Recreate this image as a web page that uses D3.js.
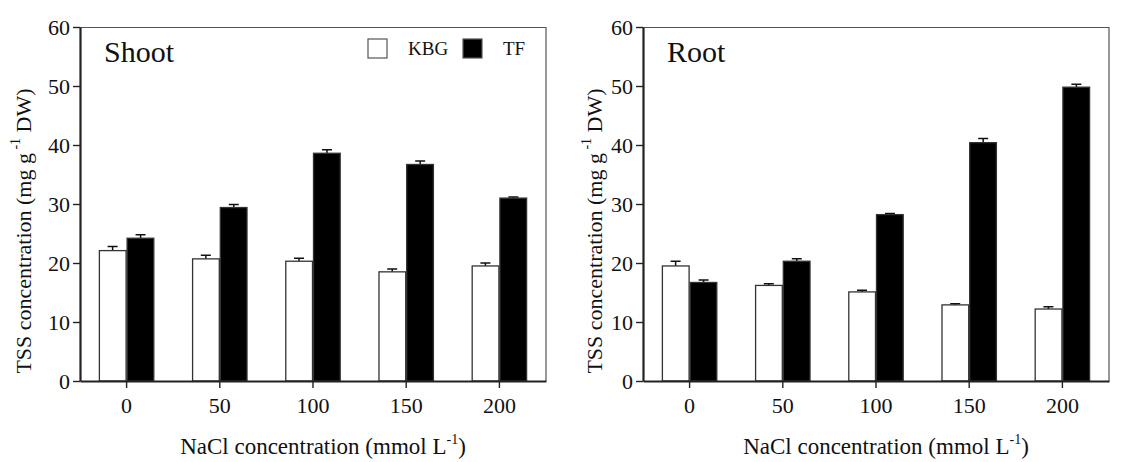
<!DOCTYPE html>
<html lang="en">
<head>
    <meta charset="UTF-8">
    <title>TSS concentration</title>
    <script src="https://d3js.org/d3.v7.min.js"></script>
    <style>
        body {
            margin: 0;
            background: #fff;
        }
        svg {
            display: block;
        }
    </style>
</head>
<body>
    <svg id="svg"></svg>
    <script>
        // data
        const doses = ['0', '50', '100', '150', '200'];
        const yTicks = [0, 10, 20, 30, 40, 50, 60];
        const series = ['KBG', 'TF'];

        const shootKBG = [22.1, 20.7, 20.3, 18.5, 19.5];
        const shootKBGErr = [0.7, 0.6, 0.5, 0.5, 0.5];
        const shootTF = [24.2, 29.4, 38.6, 36.7, 31.0];
        const shootTFErr = [0.6, 0.5, 0.6, 0.6, 0.2];

        const rootKBG = [19.5, 16.2, 15.1, 12.9, 12.2];
        const rootKBGErr = [0.8, 0.3, 0.3, 0.2, 0.4];
        const rootTF = [16.7, 20.3, 28.2, 40.4, 49.8];
        const rootTFErr = [0.4, 0.4, 0.2, 0.7, 0.5];

        const FONT = "'Liberation Serif', 'Times New Roman', serif";

        const svg = d3.select('#svg')
            .attr('width', 1123)
            .attr('height', 462)
            .attr('viewBox', '0 0 1123 462')
            .attr('font-family', FONT);

        const innerWidth = 466;
        const innerHeight = 354;

        const color = d3.scaleOrdinal().domain(series).range(['#fff', '#000']);

        const drawPanel = (left, top, label, kbg, kbgErr, tf, tfErr, opts) => {
            const g = svg.append('g').attr('transform', `translate(${left}, ${top})`);

            const x = d3.scaleBand().domain(doses).range([0, innerWidth]);
            const y = d3.scaleLinear().domain([0, 60]).range([innerHeight, 0]);
            const barW = x.bandwidth() * 0.3;

            const rows = [];
            doses.forEach((d, i) => {
                rows.push({ dose: d, key: 'KBG', v: kbg[i], e: kbgErr[i], off: -barW });
                rows.push({ dose: d, key: 'TF', v: tf[i], e: tfErr[i], off: 0 });
            });
            const cx = d => x(d.dose) + x.bandwidth() / 2 + d.off;

            // frame top / right
            g.append('path')
                .attr('d', `M0,0.5H${innerWidth}V${innerHeight}`)
                .attr('fill', 'none')
                .attr('stroke', '#555')
                .attr('stroke-width', 1.2);

            // error bars (upper whisker only)
            g.selectAll('.err').data(rows).join('path')
                .attr('class', 'err')
                .attr('d', d => {
                    const mx = cx(d) + barW / 2;
                    return `M${mx},${y(d.v)}V${y(d.v + d.e)}M${mx - 5},${y(d.v + d.e)}H${mx + 5}`;
                })
                .attr('stroke', '#111')
                .attr('stroke-width', 1.5)
                .attr('fill', 'none');

            g.selectAll('.bar').data(rows).join('rect')
                .attr('class', 'bar')
                .attr('x', d => cx(d) + (d.key === 'KBG' ? 0.75 : 0.5))
                .attr('y', d => y(d.v))
                .attr('width', barW - 1.25)
                .attr('height', d => innerHeight - y(d.v))
                .attr('fill', d => color(d.key))
                .attr('stroke', '#333')
                .attr('stroke-width', 1.3);

            const yAxis = g.append('g')
                .call(d3.axisLeft(y).tickValues(yTicks).tickSize(7).tickSizeOuter(0).tickPadding(3))
                .attr('font-family', FONT)
                .attr('font-size', 22);
            yAxis.select('.domain').attr('stroke-width', 2.2).attr('stroke', '#222');
            yAxis.selectAll('.tick line').attr('stroke-width', 1.4).attr('stroke', '#222');
            yAxis.selectAll('text').attr('fill', '#111');

            const xAxis = g.append('g')
                .attr('transform', `translate(0, ${innerHeight})`)
                .call(d3.axisBottom(x).tickSize(7).tickSizeOuter(0).tickPadding(9))
                .attr('font-family', FONT)
                .attr('font-size', 22);
            xAxis.select('.domain').attr('stroke-width', 1.8).attr('stroke', '#222');
            xAxis.selectAll('.tick line').attr('stroke-width', 1.4).attr('stroke', '#222');
            xAxis.selectAll('text').attr('fill', '#111');

            g.append('text')
                .attr('x', 24)
                .attr('y', 34.5)
                .attr('font-size', 30)
                .attr('fill', '#111')
                .text(label);

            // x title
            const xt = g.append('text')
                .attr('x', innerWidth / 2 + 10)
                .attr('y', innerHeight + 73)
                .attr('text-anchor', 'middle')
                .attr('font-size', 23)
                .attr('fill', '#111');
            xt.append('tspan').text('NaCl concentration (mmol L');
            xt.append('tspan').attr('font-size', 14).attr('dy', -10).text('-1');
            xt.append('tspan').attr('dy', 10).text(')');

            // y title
            const yt = g.append('text')
                .attr('transform', `translate(${-opts.yTitleOff}, ${innerHeight / 2 + 27}) rotate(-90)`)
                .attr('text-anchor', 'middle')
                .attr('font-size', 22)
                .attr('fill', '#111');
            yt.append('tspan').text('TSS concentration (mg g');
            yt.append('tspan').attr('font-size', 14).attr('dy', -11).text(' -1');
            yt.append('tspan').attr('dy', 11).text(' DW)');

            if (opts.legend) {
                const lg = g.append('g').attr('transform', 'translate(288, 12)');
                const items = lg.selectAll('g').data(series).join('g')
                    .attr('transform', (d, i) => `translate(${i * 95}, 0)`);
                items.append('rect')
                    .attr('width', 19)
                    .attr('height', 19)
                    .attr('fill', d => color(d))
                    .attr('stroke', '#555')
                    .attr('stroke-width', 1.2);
                items.append('text')
                    .attr('x', 40)
                    .attr('y', 16)
                    .attr('font-size', 19)
                    .attr('fill', '#111')
                    .text(d => d);
            }
        };

        drawPanel(80, 27, 'Shoot', shootKBG, shootKBGErr, shootTF, shootTFErr, { legend: true, yTitleOff: 49 });
        drawPanel(643, 27, 'Root', rootKBG, rootKBGErr, rootTF, rootTFErr, { legend: false, yTitleOff: 41 });
    </script>
</body>
</html>
